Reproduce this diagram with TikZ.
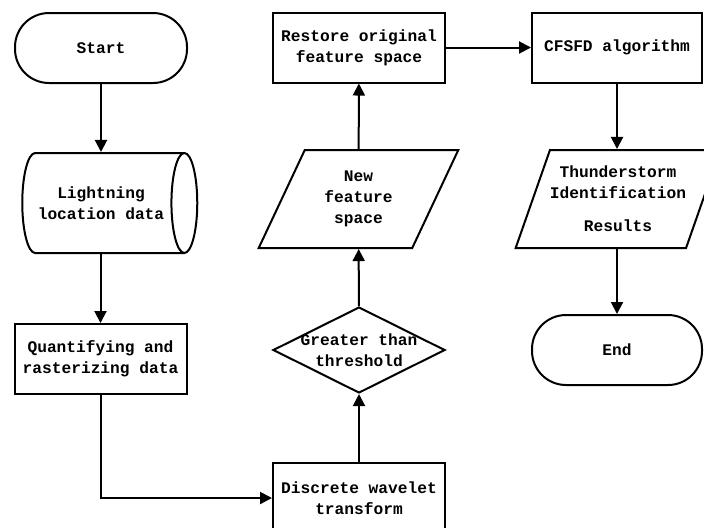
\documentclass[tikz,border=0pt]{standalone}
\usepackage{fontspec}
\setmonofont{Liberation Mono}
\usetikzlibrary{shapes.geometric,arrows.meta}

\begin{document}
\begin{tikzpicture}[x=0.5pt,y=-0.5pt,line width=1pt,
    every node/.style={draw,align=center,font=\ttfamily\bfseries\fontsize{8.1pt}{10.5pt}\selectfont},
    term/.style={rectangle,rounded corners=17pt,minimum width=86pt,minimum height=35pt},
    proc/.style={rectangle,minimum width=86pt,minimum height=35pt,inner sep=1pt},
    store/.style={cylinder,aspect=0.7,minimum width=50pt,minimum height=87.5pt,inner sep=1pt},
    dec/.style={diamond,minimum width=86pt,minimum height=43pt,inner sep=0pt},
    io/.style={trapezium,trapezium left angle=62.5,trapezium right angle=117.5,trapezium stretches=true,
      minimum width=100pt,minimum height=49pt,inner sep=0pt},
    arr/.style={-{Triangle[length=6pt,width=6pt]}}]
  \useasboundingbox (0,0) rectangle (704,527);
                  \node[term] (start) at (101,48) {Start};
                  \node[store] (data) at (101,203) {Lightning\\location data};
                  \node[proc] (quant) at (100.5,359) {Quantifying and\\rasterizing data};
                  \node[proc] (dwt) at (359,498) {Discrete wavelet\\transform};
                  \node[dec] (thr) at (359,350) {\makebox[0pt]{Greater than}\\\makebox[0pt]{threshold}};
                  \node[io] (newfs) at (358.5,199) {New\\feature\\space};
                  \node[proc] (restore) at (359,47.5) {Restore original\\feature space};
                  \node[proc,minimum width=85pt] (cfsfd) at (617,47.5) {CFSFD algorithm};
                  \node[io] (res) at (618,199) {Thunderstorm\\Identification\\[6pt]Results};
                  \node[term,minimum width=85pt] (end) at (617,350) {End};

                  \draw[arr] (start) -- (start |- data.north);
                  \draw[arr] (data.south -| quant) -- (quant);
                  \draw[arr] (quant) |- (dwt);
                  \draw[arr] (dwt) -- (thr);
                  \draw[arr] (thr) -- (newfs);
                  \draw[arr] (newfs) -- (restore);
                  \draw[arr] (restore) -- (cfsfd);
                  \draw[arr] (cfsfd) -- (cfsfd |- res.north);
                  \draw[arr] (res.south -| end) -- (end);
\end{tikzpicture}
\end{document}
